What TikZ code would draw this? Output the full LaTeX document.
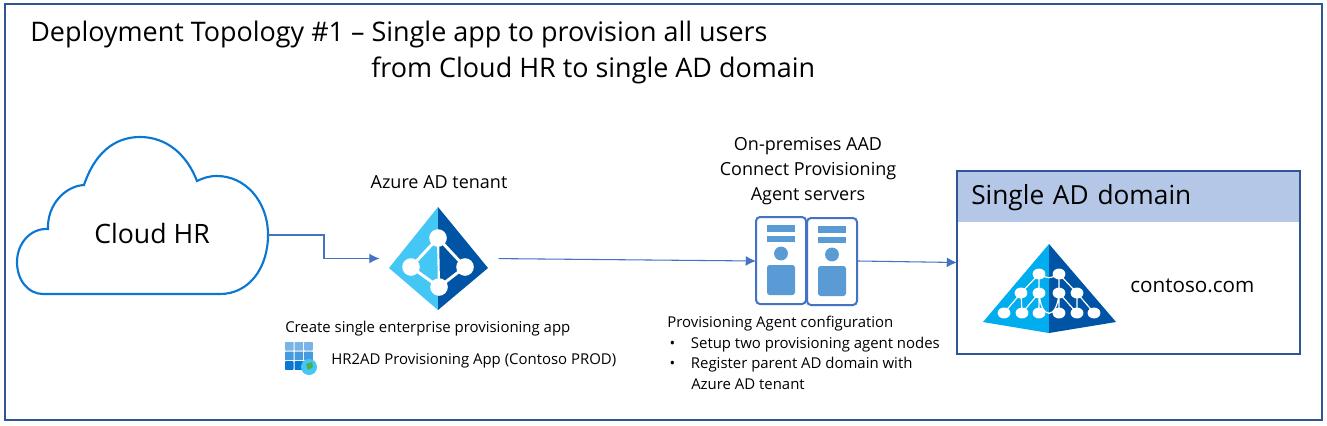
\documentclass[tikz,border=0pt]{standalone}
\usepackage{fontspec}
\setmainfont{Open Sans}
\usepackage{xcolor}
\usetikzlibrary{arrows.meta}
\definecolor{framecol}{HTML}{2F5597}
\definecolor{flowcol}{HTML}{4472C4}
\definecolor{cloudcol}{HTML}{0A78D2}
\definecolor{headcol}{HTML}{B4C7E7}
\definecolor{srvcol}{HTML}{5B9BD5}
\definecolor{lightaz}{HTML}{44C7F4}
\definecolor{darkaz}{HTML}{0054A6}
\definecolor{forestaz}{HTML}{00ADEF}
\newcommand{\bul}{\makebox[17pt][l]{\hspace*{1pt}\textbullet}}

\begin{document}
\begin{tikzpicture}[x=0.75pt,y=-0.75pt]
\tikzset{>={Latex[width=2.6mm,length=2.7mm]}}
\tikzstyle{flow} =[->,color=flowcol,line width=0.8pt]
\tikzstyle{iconbox} =[inner sep=0pt,outer sep=0pt]
\tikzstyle{titletext} =[inner sep=0pt,anchor=base west,font=\fontsize{20.2}{22}\selectfont]
\tikzstyle{smalltext} =[inner sep=0pt,anchor=base west,font=\fontsize{11.2}{13}\selectfont]
\tikzstyle{midtext} =[inner sep=0pt,anchor=base,font=\fontsize{13.5}{15}\selectfont]
\tikzstyle{srvline} =[rounded corners=3pt,draw=flowcol,line width=1.5pt,fill=white]
\useasboundingbox (0,0) rectangle (1327,425);
\fill[white] (0,0) rectangle (1327,425);
\draw[framecol,line width=1.5pt] (5,4) rectangle (1322,420);

\node[titletext](title1) at (30,41){Deployment Topology \#1 -- Single app to provision all users};
\node[titletext](title2) at (371,77){from Cloud HR to single AD domain};

% cloud
\draw[cloudcol,line width=1.6pt] (43,294) -- (220,294)
  .. controls (249,294) and (268,268) .. (268,235)
  .. controls (268,201) and (245,176) .. (217,176)
  .. controls (209,176) and (203,178) .. (197,181)
  .. controls (187,155) and (167,137) .. (140,137)
  .. controls (113,137) and (94,155) .. (84,185)
  .. controls (65,186) and (47,205) .. (48,229)
  .. controls (30,228) and (17,244) .. (17,262)
  .. controls (17,280) and (28,294) .. (43,294);
\node[inner sep=0pt,outer sep=0pt,minimum width=174pt,text depth=3pt,font=\fontsize{20}{24}\selectfont](cloudhr) at (152,235){Cloud HR};

% tenant
\node[iconbox,minimum width=75pt,minimum height=77pt](tenant) at (438.5,258.5){};
\fill[lightaz] (438,207) -- (389,268) -- (438,310) -- cycle;
\fill[darkaz] (438,207) -- (488,268) -- (438,310) -- cycle;
\draw[white,line width=2.2pt] (438,238) -- (411,267) -- (439,287) -- (465,267) -- cycle;
\draw[white,line width=1.6pt] (438,238) -- (439,287);
\foreach \px/\py in {438/238,411/267,465/267,439/287}
  \fill[white] (\px,\py) circle (6.6pt);
\node[midtext](tenantlabel) at (439,188){Azure AD tenant};

\node[smalltext](createlabel) at (285,332){Create single enterprise provisioning app};
\foreach \cx in {0,1,2}
  \foreach \cy/\shade in {0/55,1/75,2/100}
    \fill[cloudcol!\shade!white,rounded corners=0.5pt] (285+\cx*9.6,342+\cy*9.6) rectangle +(8.6,8.6);
\fill[lightaz] (309,367) circle (6pt);
\fill[green!55!black!70] (306,364) -- (312,362) -- (313,367) -- (308,370) -- cycle;
\node[smalltext](applabel) at (331,364){HR2AD Provisioning App (Contoso PROD)};

% servers
\node[iconbox,minimum width=76.5pt,minimum height=66pt](agents) at (807,261){};
\foreach \sx/\sy in {0/0,51/1}{
  \draw[srvline] (756+\sx,217+\sy) rectangle +(50,87);
  \fill[srvcol] (767+\sx,225+\sy) rectangle +(28,7);
  \fill[srvcol] (767+\sx,236+\sy) rectangle +(28,6);
  \fill[srvcol] (781+\sx,253.5+\sy) circle (5.2pt);
  \fill[srvcol,rounded corners=2pt] (767+\sx,265+\sy) rectangle +(28,30);
}
\node[midtext](agent1) at (808,150){On-premises AAD};
\node[midtext](agent2) at (808,175){Connect Provisioning};
\node[midtext](agent3) at (808,200){Agent servers};

\node[smalltext](config0) at (667,327){Provisioning Agent configuration};
\node[smalltext](config1) at (668,348){\bul Setup two provisioning agent nodes};
\node[smalltext](config2) at (668,368){\bul Register parent AD domain with};
\node[smalltext](config3) at (691,389){Azure AD tenant};

% domain
\node[iconbox,draw=framecol,line width=1.5pt,minimum width=257.25pt,minimum height=137.25pt](domain) at (1128.5,262.5){};
\node[inner sep=0pt,anchor=north west,fill=headcol,minimum width=255.75pt,minimum height=37.5pt,text width=255.75pt,align=left,font=\fontsize{19.7}{24}\selectfont](domainhead) at (958,172){\hspace*{9.75pt}Single AD domain};
\fill[forestaz] (1049,244) -- (983,322) -- (1049,333) -- cycle;
\fill[darkaz] (1049,244) -- (1116,322) -- (1049,333) -- cycle;
\draw[white,line width=0.9pt] (1039,274) -- (1021,293) -- (1004,313)
  (1021,293) -- (1022,313)
  (1039,274) .. controls (1049,279) .. (1059,274)
  (1059,274) -- (1077,293) -- (1094,313)
  (1077,293) -- (1077,313)
  (1039,274) -- (1039,313)
  (1059,274) -- (1059,313)
  (1039,293) .. controls (1041,320) and (1057,320) .. (1059,293)
  (1059,293) -- (1077,313)
  (1039,293) -- (1022,313);
\foreach \px/\py in {1039/274,1059/274,1021/293,1039/293,1059/293,1077/293,1004/313,1022/313,1039/313,1059/313,1077/313,1094/313}
  \fill[white] (\px,\py) ellipse (4.8pt and 4.1pt);
\node[inner sep=0pt,anchor=base west,font=\fontsize{15.5}{18}\selectfont](contoso) at (1130,292){contoso.com};

\draw [flow,shorten >=6.75pt] (cloudhr.east) -| (324,258.5) -- (tenant.west);
\draw [flow,shorten <=7.5pt] (tenant.east) to (agents.west);
\draw [flow] (agents.east) to (domain.west);
\end{tikzpicture}
\end{document}
